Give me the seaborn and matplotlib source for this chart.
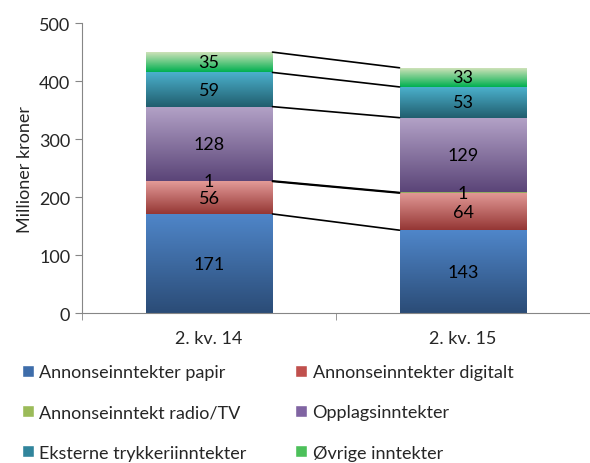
import numpy as np
import pandas as pd
import matplotlib
matplotlib.use("Agg")
import matplotlib.pyplot as plt
import seaborn as sns
from matplotlib.colors import LinearSegmentedColormap
from matplotlib.patches import Patch

# data
kvartal = ["2. kv. 14", "2. kv. 15"]
serier = ["Annonseinntekter papir", "Annonseinntekter digitalt", "Annonseinntekt radio/TV",
          "Opplagsinntekter", "Eksterne trykkeriinntekter", "Øvrige inntekter"]
papir = [171, 143]
digitalt = [56, 64]
radio = [1, 1]
opplag = [128, 129]
trykkeri = [59, 53]
ovrige = [35, 33]
verdier = [papir, digitalt, radio, opplag, trykkeri, ovrige]

# gradient farger (topp, bunn) som i Excel
farger = [("#4F86C9", "#2B4C77"),
          ("#E39A97", "#953735"),
          ("#C3D69B", "#76923C"),
          ("#B3A2C7", "#5B4578"),
          ("#4BB0CC", "#215E6E"),
          ("#D7E4BD", "#00B050")]
midt = ["#3E6DAA", "#C0504D", "#9BBB59", "#8064A2", "#31859C", "#4CC05A"]

sns.set_style("white")
plt.rcParams['font.family'] = ['Lato', 'DejaVu Sans']
fs = 13

fig = plt.figure(figsize=(5.9, 4.64), dpi=100)
ax = fig.add_axes([0.139, 0.323, 0.861, 0.625])

bunn = np.zeros(len(kvartal))
for navn, v, (top, bot) in zip(serier, verdier, farger):
    df = pd.DataFrame({"kv": kvartal, "val": v})
    sns.barplot(data=df, x="kv", y="val", bottom=bunn, color=midt[serier.index(navn)],
                width=0.5, ax=ax, saturation=1, linewidth=0)
    cont = ax.containers[-1]
    cmap = LinearSegmentedColormap.from_list(navn, [bot, top])
    grad = np.linspace(0, 1, 100).reshape(-1, 1)
    for p, val in zip(cont.patches, v):
        x0, y0 = p.get_x(), p.get_y()
        w, h = p.get_width(), p.get_height()
        im = ax.imshow(grad, cmap=cmap, aspect="auto", origin="lower",
                       extent=[x0, x0 + w, y0, y0 + h], zorder=2)
        im.set_clip_path(p)
        ax.text(x0 + w / 2, y0 + h / 2, str(val), ha="center", va="center",
                fontsize=fs, color="black", zorder=4)
    bunn = bunn + np.array(v)

# serielinjer mellom stolpene
cum = np.cumsum(np.array(verdier), axis=0)
p0 = ax.containers[0].patches[0]
p1 = ax.containers[0].patches[1]
xa = p0.get_x() + p0.get_width()
xb = p1.get_x()
for rad in cum:
    ax.plot([xa, xb], [rad[0], rad[1]], color="black", lw=1.2, zorder=3)

ax.set_xlim(-0.5, 1.5)
ax.set_ylim(0, 500)
ax.set_yticks([0, 100, 200, 300, 400, 500])
ax.set_xlabel("")
ax.set_ylabel("Millioner kroner", fontsize=fs)
ax.tick_params(axis="both", labelsize=fs)
ax.tick_params(axis="y", length=5, color="#868686", direction="out", left=True)
ax.tick_params(axis="x", which="major", length=0, pad=12)
ax.set_xticks([-0.5, 0.5, 1.5], minor=True)
ax.tick_params(axis="x", which="minor", length=5, color="#868686", direction="out", bottom=True)
for s in ["top", "right"]:
    ax.spines[s].set_visible(False)
for s in ["left", "bottom"]:
    ax.spines[s].set_color("#868686")
ax.grid(False)

rekkefolge = [0, 2, 4, 1, 3, 5]
handles = [Patch(facecolor=midt[i], label=serier[i]) for i in rekkefolge]
fig.legend(handles=handles, ncol=2, loc="lower left", bbox_to_anchor=(0.01, -0.03),
           frameon=False, fontsize=fs, labelspacing=1.35, handlelength=0.65,
           handleheight=0.65, handletextpad=0.3, columnspacing=2.7)

fig.savefig("out.png", dpi=100)
